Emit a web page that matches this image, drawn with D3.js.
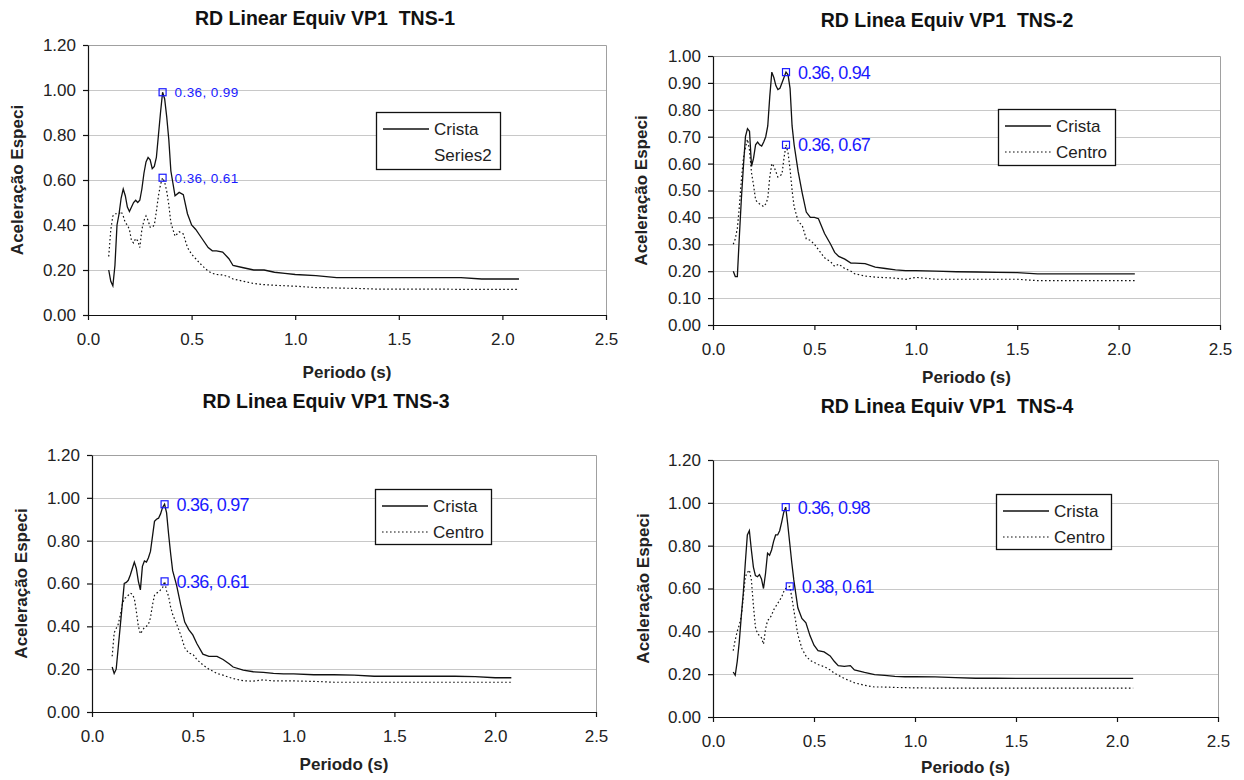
<!DOCTYPE html>
<html>
<head>
<meta charset="utf-8">
<title>RD Linea Equiv VP1</title>
<script src="https://d3js.org/d3.v7.min.js"></script>
<style>
    body {
        margin: 0;
        background: #fff;
        font-family: "Liberation Sans", Arial, sans-serif;
    }
    .grid { stroke: #c8c8c8; stroke-width: 1; }
    .frame { stroke: #a0a0a0; stroke-width: 1; fill: none; }
    .axis path, .axis line { stroke: #111; stroke-width: 1.2; }
    .axis text { font-size: 17px; fill: #222; font-family: "Liberation Sans", Arial, sans-serif; }
    .ttl { font-size: 19.5px; font-weight: bold; fill: #111; }
    .atitle { font-size: 17px; font-weight: bold; fill: #222; }
    .crista { fill: none; stroke: #111; stroke-width: 1.3; }
    .centro { fill: none; stroke: #111; stroke-width: 1.2; stroke-dasharray: 1.6,2.4; }
    .leg text { font-size: 17px; fill: #222; }
</style>
</head>
<body>
<div id="chart"></div>
<script>

// period (s), shared by every series
var periodo = [0.10,0.11,0.12,0.13,0.14,0.15,0.16,0.17,0.18,0.19,
    0.20,0.21,0.22,0.23,0.24,0.25,0.26,0.27,0.28,0.29,
    0.30,0.31,0.32,0.33,0.34,0.35,0.36,0.37,0.38,0.39,
    0.40,0.42,0.44,0.46,0.48,0.50,0.52,0.55,0.58,0.60,
    0.62,0.65,0.68,0.70,0.75,0.80,0.85,0.90,0.95,1.00,
    1.10,1.20,1.30,1.40,1.50,1.60,1.70,1.80,1.90,2.00,
    2.08];

// TNS-1
var crista1 = [0.20,0.15,0.13,0.22,0.40,0.45,0.52,0.56,0.53,0.48,
    0.46,0.48,0.50,0.51,0.50,0.51,0.56,0.63,0.68,0.70,
    0.69,0.65,0.66,0.70,0.80,0.90,0.99,0.96,0.88,0.78,
    0.64,0.53,0.545,0.535,0.45,0.40,0.38,0.34,0.30,0.285,
    0.285,0.28,0.25,0.22,0.21,0.20,0.20,0.19,0.185,0.18,
    0.175,0.166,0.166,0.166,0.166,0.166,0.166,0.166,0.16,0.16,
    0.16];
var centro1 = [0.26,0.38,0.44,0.45,0.45,0.45,0.46,0.44,0.41,0.40,
    0.38,0.33,0.32,0.34,0.33,0.30,0.38,0.42,0.44,0.42,
    0.39,0.39,0.40,0.46,0.53,0.58,0.61,0.59,0.55,0.49,
    0.41,0.35,0.37,0.36,0.30,0.27,0.25,0.22,0.195,0.185,
    0.18,0.178,0.17,0.16,0.15,0.14,0.135,0.132,0.13,0.128,
    0.122,0.12,0.118,0.115,0.115,0.115,0.115,0.114,0.114,0.114,
    0.114];

// TNS-2
var crista2 = [0.20,0.18,0.18,0.33,0.47,0.59,0.70,0.73,0.72,0.59,
    0.62,0.67,0.68,0.67,0.665,0.68,0.70,0.74,0.85,0.94,
    0.92,0.89,0.875,0.88,0.90,0.92,0.94,0.93,0.88,0.74,
    0.67,0.57,0.49,0.42,0.40,0.40,0.395,0.34,0.30,0.27,
    0.255,0.245,0.23,0.23,0.228,0.215,0.21,0.205,0.202,0.202,
    0.20,0.198,0.197,0.196,0.195,0.19,0.19,0.19,0.19,0.19,
    0.19];
var centro2 = [0.30,0.32,0.36,0.44,0.54,0.62,0.66,0.69,0.65,0.565,
    0.52,0.465,0.455,0.45,0.445,0.44,0.45,0.47,0.55,0.60,
    0.59,0.57,0.55,0.555,0.56,0.62,0.67,0.64,0.58,0.50,
    0.44,0.385,0.37,0.32,0.315,0.30,0.28,0.25,0.235,0.218,
    0.226,0.21,0.20,0.19,0.182,0.178,0.176,0.174,0.17,0.177,
    0.17,0.17,0.17,0.17,0.17,0.165,0.165,0.165,0.165,0.165,
    0.165];

// TNS-3
var crista3 = [0.21,0.18,0.20,0.30,0.40,0.50,0.60,0.605,0.615,0.64,
    0.67,0.70,0.67,0.61,0.57,0.68,0.705,0.70,0.72,0.75,
    0.82,0.89,0.90,0.905,0.925,0.955,0.97,0.93,0.83,0.74,
    0.66,0.59,0.50,0.42,0.385,0.36,0.32,0.27,0.26,0.26,
    0.26,0.245,0.225,0.21,0.195,0.188,0.185,0.18,0.178,0.178,
    0.174,0.174,0.172,0.167,0.167,0.167,0.167,0.167,0.165,0.16,
    0.16];
var centro3 = [0.26,0.37,0.39,0.41,0.45,0.50,0.53,0.535,0.545,0.555,
    0.55,0.53,0.47,0.40,0.365,0.38,0.395,0.40,0.41,0.44,
    0.50,0.545,0.555,0.56,0.57,0.58,0.61,0.565,0.54,0.49,
    0.456,0.41,0.36,0.30,0.275,0.27,0.245,0.22,0.20,0.19,
    0.18,0.172,0.162,0.156,0.146,0.144,0.15,0.145,0.145,0.145,
    0.143,0.139,0.139,0.139,0.139,0.139,0.139,0.139,0.139,0.139,
    0.139];

// TNS-4
var crista4 = [0.21,0.195,0.26,0.35,0.47,0.58,0.72,0.85,0.87,0.78,
    0.70,0.66,0.655,0.665,0.645,0.60,0.67,0.765,0.755,0.78,
    0.82,0.85,0.85,0.87,0.91,0.955,0.98,0.90,0.81,0.72,
    0.64,0.51,0.46,0.44,0.38,0.335,0.31,0.304,0.285,0.26,
    0.24,0.236,0.24,0.22,0.208,0.198,0.194,0.19,0.188,0.188,
    0.187,0.184,0.181,0.181,0.18,0.18,0.18,0.18,0.18,0.18,
    0.18];
var centro4 = [0.31,0.36,0.40,0.43,0.47,0.56,0.655,0.675,0.686,0.64,
    0.52,0.42,0.39,0.38,0.37,0.34,0.41,0.45,0.46,0.475,
    0.50,0.515,0.53,0.545,0.56,0.585,0.60,0.605,0.61,0.56,
    0.50,0.385,0.32,0.285,0.265,0.255,0.245,0.235,0.22,0.205,
    0.195,0.18,0.168,0.16,0.148,0.14,0.14,0.138,0.137,0.136,
    0.135,0.135,0.135,0.135,0.135,0.135,0.135,0.135,0.135,0.135,
    0.135];

// labelled peaks [period, value]
var picos1 = [[0.36, 0.99], [0.36, 0.61]];
var picos2 = [[0.36, 0.94], [0.36, 0.67]];
var picos3 = [[0.36, 0.97], [0.36, 0.61]];
var picos4 = [[0.36, 0.98], [0.38, 0.61]];

var titulos = ["RD Linear Equiv VP1\u00a0 TNS-1", "RD Linea Equiv VP1\u00a0 TNS-2",
    "RD Linea Equiv VP1 TNS-3", "RD Linea Equiv VP1\u00a0 TNS-4"];
var legendas = [["Crista", "Series2"], ["Crista", "Centro"], ["Crista", "Centro"], ["Crista", "Centro"]];

var xTicks = [0, 0.5, 1.0, 1.5, 2.0, 2.5];
var yTicks12 = [0, 0.2, 0.4, 0.6, 0.8, 1.0, 1.2];
var yTicks10 = [0, 0.1, 0.2, 0.3, 0.4, 0.5, 0.6, 0.7, 0.8, 0.9, 1.0];

var xLabel = "Periodo (s)";
var yLabel = "Aceleração Especi";

var svg = d3.select("#chart").append("svg")
    .attr("width", 1244)
    .attr("height", 780);

var panels = [
    {left: 88, right: 606, top: 45, bottom: 315, yMax: 1.2, yTicks: yTicks12,
     crista: crista1, centro: centro1, picos: picos1, title: titulos[0], legend: legendas[0],
     titleX: 325, titleY: 25, xTitleY: 378, yTitleX: 17,
     leg: {x: 376, y: 112, w: 124, h: 57}, showCentroKey: false, labelSize: 13.5, labelSpacing: 0.4},
    {left: 713, right: 1220, top: 56, bottom: 325, yMax: 1.0, yTicks: yTicks10,
     crista: crista2, centro: centro2, picos: picos2, title: titulos[1], legend: legendas[1],
     titleX: 947, titleY: 27, xTitleY: 383, yTitleX: 641,
     leg: {x: 998, y: 109, w: 117, h: 56}, showCentroKey: true, labelSize: 18, labelSpacing: -0.8},
    {left: 92, right: 596, top: 455, bottom: 712, yMax: 1.2, yTicks: yTicks12,
     crista: crista3, centro: centro3, picos: picos3, title: titulos[2], legend: legendas[2],
     titleX: 326, titleY: 408, xTitleY: 770, yTitleX: 21,
     leg: {x: 375, y: 489, w: 116, h: 55}, showCentroKey: true, labelSize: 18, labelSpacing: -0.8},
    {left: 713, right: 1218, top: 460, bottom: 717, yMax: 1.2, yTicks: yTicks12,
     crista: crista4, centro: centro4, picos: picos4, title: titulos[3], legend: legendas[3],
     titleX: 947, titleY: 413, xTitleY: 773, yTitleX: 643,
     leg: {x: 996, y: 494, w: 115, h: 55}, showCentroKey: true, labelSize: 18, labelSpacing: -0.8}
];

panels.forEach(function(p) {
    var x = d3.scaleLinear().domain([0, 2.5]).range([p.left, p.right]);
    var y = d3.scaleLinear().domain([0, p.yMax]).range([p.bottom, p.top]);
    var g = svg.append("g");

    // gridlines
    g.selectAll(".grid")
        .data(p.yTicks.filter(function(d) { return d > 0 && d < p.yMax; }))
        .enter().append("line")
        .attr("class", "grid")
        .attr("x1", p.left).attr("x2", p.right)
        .attr("y1", function(d) { return Math.round(y(d)) + 0.5; })
        .attr("y2", function(d) { return Math.round(y(d)) + 0.5; });

    // top + right border
    g.append("path")
        .attr("class", "frame")
        .attr("d", "M" + p.left + "," + (p.top + 0.5) + "H" + (p.right + 0.5) + "V" + p.bottom);

    // axes
    g.append("g")
        .attr("class", "axis")
        .attr("transform", "translate(0," + p.bottom + ")")
        .call(d3.axisBottom(x).tickValues(xTicks).tickFormat(d3.format(".1f"))
            .tickSize(5).tickSizeOuter(0).tickPadding(13));

    g.append("g")
        .attr("class", "axis")
        .attr("transform", "translate(" + p.left + ",0)")
        .call(d3.axisLeft(y).tickValues(p.yTicks).tickFormat(d3.format(".2f"))
            .tickSize(5).tickSizeOuter(0).tickPadding(7));

    // series
    var line = d3.line()
        .x(function(d, i) { return x(periodo[i]); })
        .y(function(d) { return y(d); });

    g.append("path").datum(p.centro).attr("class", "centro").attr("d", line);
    g.append("path").datum(p.crista).attr("class", "crista").attr("d", line);

    // peak markers and labels
    g.selectAll(".pico")
        .data(p.picos)
        .enter().append("rect")
        .attr("x", function(d) { return x(d[0]) - 3.5; })
        .attr("y", function(d) { return y(d[1]) - 3.5; })
        .attr("width", 7).attr("height", 7)
        .attr("fill", "none")
        .attr("stroke", "#1a1aff")
        .attr("stroke-width", 1.2);

    g.selectAll(".picoText")
        .data(p.picos)
        .enter().append("text")
        .attr("x", function(d) { return x(d[0]) + 12; })
        .attr("y", function(d) { return y(d[1]); })
        .attr("dy", "0.36em")
        .attr("fill", "#1a1aff")
        .attr("font-size", p.labelSize + "px")
        .attr("letter-spacing", p.labelSpacing + "px")
        .text(function(d) { return d3.format(".2f")(d[0]) + ", " + d3.format(".2f")(d[1]); });

    // titles
    g.append("text")
        .attr("class", "ttl")
        .attr("x", p.titleX).attr("y", p.titleY)
        .attr("text-anchor", "middle")
        .style("white-space", "pre")
        .text(p.title);

    g.append("text")
        .attr("class", "atitle")
        .attr("x", (p.left + p.right) / 2).attr("y", p.xTitleY)
        .attr("text-anchor", "middle")
        .text(xLabel);

    g.append("text")
        .attr("class", "atitle")
        .attr("transform", "translate(" + p.yTitleX + "," + (p.top + p.bottom) / 2 + ") rotate(-90)")
        .attr("text-anchor", "middle")
        .attr("dy", "0.35em")
        .text(yLabel);

    // legend
    var leg = g.append("g").attr("class", "leg");
    leg.append("rect")
        .attr("x", p.leg.x + 0.5).attr("y", p.leg.y + 0.5)
        .attr("width", p.leg.w).attr("height", p.leg.h)
        .attr("fill", "#fff").attr("stroke", "#111").attr("stroke-width", 1.3);

    var rowY = [p.leg.y + 17, p.leg.y + 43];
    leg.append("line")
        .attr("class", "crista")
        .attr("x1", p.leg.x + 7).attr("x2", p.leg.x + 53)
        .attr("y1", rowY[0]).attr("y2", rowY[0]);
    if (p.showCentroKey) {
        leg.append("line")
            .attr("class", "centro")
            .attr("x1", p.leg.x + 7).attr("x2", p.leg.x + 53)
            .attr("y1", rowY[1]).attr("y2", rowY[1]);
    }
    leg.selectAll("text")
        .data(p.legend)
        .enter().append("text")
        .attr("x", p.leg.x + 58)
        .attr("y", function(d, i) { return rowY[i]; })
        .attr("dy", "0.36em")
        .text(function(d) { return d; });
});

</script>
</body>
</html>
